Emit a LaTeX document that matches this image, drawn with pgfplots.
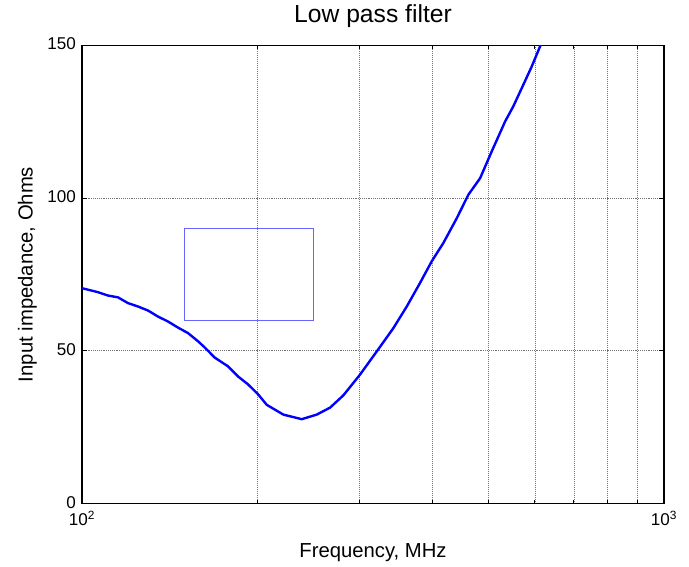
\documentclass[border=0pt]{standalone}
\usepackage{fontspec}
\setmainfont{Liberation Sans}
\usepackage{pgfplots}
\pgfplotsset{compat=1.18}
\begin{document}
\begin{tikzpicture}
\begin{semilogxaxis}[
  scale only axis,
  width=436.5pt, height=343.5pt,
  xmin=100, xmax=1000,
  ymin=0, ymax=150,
  xtick={100,1000},
  xticklabels={10\textsuperscript{2},10\textsuperscript{3}},
  minor xtick={200,300,400,500,600,700,800,900},
  ytick={0,50,100,150},
  /pgf/number format/assume math mode=true,
  tick label style={font=\fontsize{12.8}{15}\selectfont},
  label style={font=\fontsize{15.2}{18}\selectfont},
  title style={font=\fontsize{18.5}{22}\selectfont},
  xmajorgrids=true, xminorgrids=true, ymajorgrids=true,
  grid style={black!55, densely dotted, line width=0.5pt},
  minor grid style={black!55, densely dotted, line width=0.5pt},
  axis line style={black, line width=0.8pt},
  tick style={black, line width=0.6pt},
  major tick length=4pt,
  minor tick length=2.5pt,
  tick align=inside,
  yticklabel style={xshift=-1pt, yshift=1pt},
  xticklabel style={yshift=-2.5pt},
  title={Low pass filter},
  title style={at={(axis description cs:0.5,1.047)}, anchor=center},
  xlabel={Frequency, MHz},
  xlabel style={at={(axis description cs:0.5,-0.1077)}, anchor=center},
  ylabel={Input impedance, Ohms},
  ylabel style={at={(axis description cs:-0.0937,0.5)}, anchor=center},
]
% marker rectangle
\addplot[blue!60, line width=0.5pt] coordinates {
  (150,60) (250,60) (250,90) (150,90) (150,60)
};
% input impedance
\addplot[blue, line width=1.8pt, line join=round] coordinates {
  (100,70.5) (106.5,69.2) (110.8,68.1) (115.3,67.5) (120.0,65.6)
  (124.8,64.5) (129.8,63.2) (135.1,61.2) (140.5,59.6) (146.2,57.6)
  (152.1,55.8) (158.3,53.1) (162.5,51.1) (169.0,47.8) (178.2,44.9)
  (185.4,41.6) (192.9,39.0) (200.6,35.8) (207.7,32.3) (221.8,29.1)
  (238.5,27.6) (253.1,29.1) (266.9,31.4) (281.2,35.4) (300.4,42.2)
  (321.0,49.8) (342.7,57.4) (361.4,64.5) (380.9,72.2) (399.0,79.3)
  (417.7,85.3) (440.4,93.4) (461.1,101.1) (483.0,106.5) (505.8,115.3)
  (533.3,125.1) (550.7,130.0) (573.1,137.1) (592.5,143.1) (614.0,150.2)
  (625,153)
};
\end{semilogxaxis}
\path[use as bounding box] (-61.5pt,-45pt) rectangle (455.25pt,376.5pt);
\end{tikzpicture}
\end{document}
